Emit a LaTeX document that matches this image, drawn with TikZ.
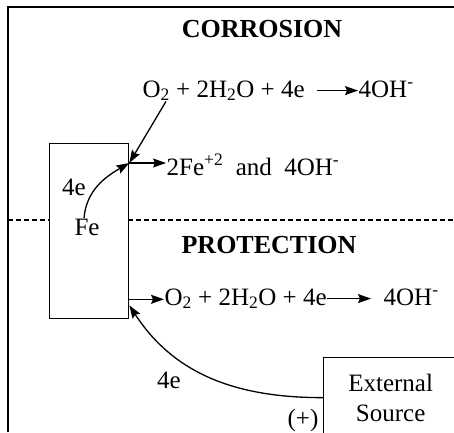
\documentclass[tikz,border=0pt]{standalone}
\usepackage{fontspec}
\setmainfont{Liberation Serif}
\usetikzlibrary{arrows.meta}
\tikzset{
  txt/.style={inner sep=0pt, font=\fontsize{25}{30}\selectfont},
  head/.style={inner sep=0pt, font=\fontsize{26}{30}\selectfont\bfseries},
  arr/.style={-{Stealth[length=13pt,width=9pt,inset=2pt]}},
}
\begin{document}
\begin{tikzpicture}[x=1pt, y=1pt, line width=1.3pt]
\useasboundingbox (0,0) rectangle (454,432);
% frame and dividing line
\draw[line width=1.5pt] (8,0) -- (8,425) -- (454,425);
\draw[dash pattern=on 5pt off 3pt] (8,212) -- (454,212);

% iron piece
\node[draw, fill=white, anchor=north west, minimum width=79, minimum height=175] (fe) at (49,289) {};
\node[txt, anchor=base] (fetxt) at (87,197) {Fe};
\node[txt, anchor=base] (e1) at (74,237) {4e};
\coordinate (c1) at ([yshift=-20pt]fe.north east);
\coordinate (c2) at ([yshift=20pt]fe.south east);
\coordinate (c3) at ([yshift=14pt]fe.south east);

% corrosion
\node[head, anchor=base] (corr) at (262,394) {CORROSION};
\node[txt, anchor=base west] (eq1l) at (142,335) {O\textsubscript{2} + 2H\textsubscript{2}O + 4e};
\node[txt, anchor=base west] (eq1r) at (358,335) {4OH\textsuperscript{-}};
\draw[arr] ([xshift=12pt]eq1l.east) -- (eq1l.east -| eq1r.west);
\node[txt, anchor=base west] (fe2) at (166,257) {2Fe\textsuperscript{+2}\ \ and\ \ 4OH\textsuperscript{-}};
\draw[arr] ([xshift=24pt]eq1l.south west) -- (c1);
\draw[arr] (c1) -- (c1 -| fe2.west);
\draw[arr] ([xshift=-3pt]fetxt.north) to[out=85, in=210] (c1);

% protection
\node[head, anchor=base] (prot) at (269,179) {PROTECTION};
\node[txt, anchor=base west] (eq2l) at (164,127) {O\textsubscript{2} + 2H\textsubscript{2}O + 4e};
\node[txt, anchor=base west] (eq2r) at (383,127) {4OH\textsuperscript{-}};
\draw[arr] (c2) -- (c2 -| eq2l.west);
\draw[arr] (eq2l.east) -- ([xshift=-12pt]eq2l.east -| eq2r.west);

% external source
\node[txt, draw, anchor=north west, minimum width=134, minimum height=80, align=center] (src) at (323,75) {External\\Source};
\node[txt, anchor=base] (plus) at (303,6) {(+)};
\node[txt, anchor=base] (e2) at (169,44) {4e};
\draw[arr] (src.west) to[out=180, in=-57] (c3);
\end{tikzpicture}
\end{document}
